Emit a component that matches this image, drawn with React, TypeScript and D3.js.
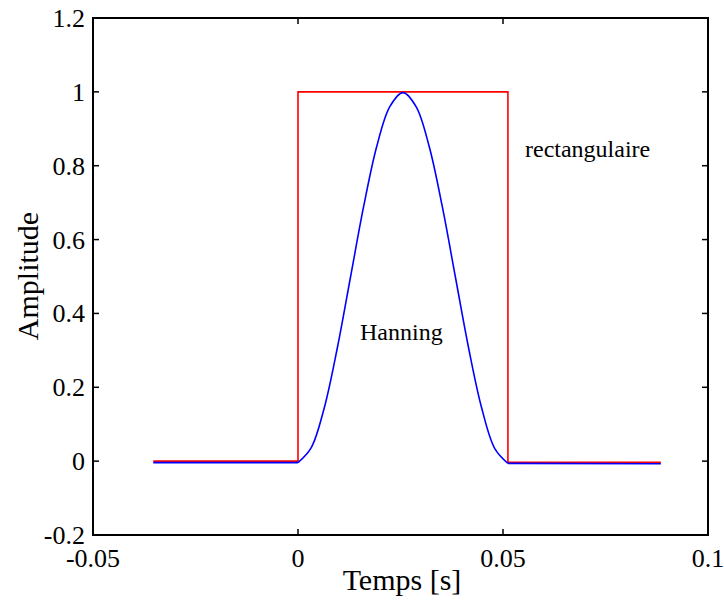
import React from "react";
import * as d3 from "d3";

const xTicks = [-0.05, 0, 0.05, 0.1];
const yTicks = [-0.2, 0, 0.2, 0.4, 0.6, 0.8, 1, 1.2];

// Rectangular window (red)
const rectT = [-0.0353, 0, 0, 0.0512, 0.0512, 0.0885];
const rectV = [0, 0, 1, 1, -0.003, -0.003];

// Hanning window (blue)
const hannT = [-0.0353, 0, 0.0032, 0.0064, 0.0096, 0.0128, 0.016, 0.0192, 0.0224, 0.0256, 0.0288, 0.032, 0.0352, 0.0384, 0.0416, 0.0448, 0.048, 0.0512, 0.0885];
const hannV = [-0.004, -0.004, 0.036, 0.144, 0.307, 0.498, 0.689, 0.852, 0.96, 0.998, 0.96, 0.852, 0.689, 0.498, 0.307, 0.144, 0.034, -0.006, -0.007];

const W = 724, H = 600;
const L = 93, R = 708, T = 18, B = 535;

export default function App() {
  const x = d3.scaleLinear().domain([-0.05, 0.1]).range([L, R]);
  const y = d3.scaleLinear().domain([-0.2, 1.2]).range([B, T]);
  const rectLine = d3.line<number>().x((_, i) => x(rectT[i])).y((v) => y(v));
  const hannLeft = d3.line<number>().x((_, i) => x(hannT[i])).y((v) => y(v));
  const hannMid = d3
    .line<[number, number]>()
    .x((d) => x(d[0]))
    .y((d) => y(d[1]))
    .curve(d3.curveCatmullRom.alpha(0.5));
  const midPts: [number, number][] = hannT.slice(1, 18).map((t, i) => [t, hannV[i + 1]]);
  const font = "'Liberation Serif', 'Times New Roman', serif";
  const tk = 6;
  return (
    <svg width={W} height={H} style={{ position: "absolute", left: 0, top: 0, background: "#fff" }} fontFamily={font}>
      <rect x={0} y={0} width={W} height={H} fill="#fff" />
      {/* data */}
      <path d={rectLine(rectV) || ""} fill="none" stroke="#ff0000" strokeWidth={1.6} />
      <path d={hannLeft([hannV[0], hannV[1]]) || ""} fill="none" stroke="#0000ff" strokeWidth={1.6} />
      <path d={hannMid(midPts) || ""} fill="none" stroke="#0000ff" strokeWidth={1.6} />
      <path
        d={hannLeft.x((_, i) => x(hannT[17 + i]))([hannV[17], hannV[18]]) || ""}
        fill="none"
        stroke="#0000ff"
        strokeWidth={1.6}
      />
      {/* box */}
      <rect x={L} y={T} width={R - L} height={B - T} fill="none" stroke="#000" strokeWidth={2} />
      {/* ticks */}
      {xTicks.map((t) => (
        <g key={"x" + t}>
          <line x1={x(t)} x2={x(t)} y1={B} y2={B - tk} stroke="#000" strokeWidth={1.5} />
          <line x1={x(t)} x2={x(t)} y1={T} y2={T + tk} stroke="#000" strokeWidth={1.5} />
          <text x={x(t)} y={567} textAnchor="middle" fontSize={26}>
            {String(t)}
          </text>
        </g>
      ))}
      {yTicks.map((t) => (
        <g key={"y" + t}>
          <line x1={L} x2={L + tk} y1={y(t)} y2={y(t)} stroke="#000" strokeWidth={1.5} />
          <line x1={R} x2={R - tk} y1={y(t)} y2={y(t)} stroke="#000" strokeWidth={1.5} />
          <text x={85} y={y(t) + 9} textAnchor="end" fontSize={26}>
            {String(Math.round(t * 10) / 10)}
          </text>
        </g>
      ))}
      {/* labels */}
      <text x={402} y={590} textAnchor="middle" fontSize={30}>
        Temps [s]
      </text>
      <text transform={`translate(38,276) rotate(-90)`} textAnchor="middle" fontSize={30}>
        Amplitude
      </text>
      <text x={525} y={157} fontSize={24}>
        rectangulaire
      </text>
      <text x={360} y={340} fontSize={24}>
        Hanning
      </text>
    </svg>
  );
}
